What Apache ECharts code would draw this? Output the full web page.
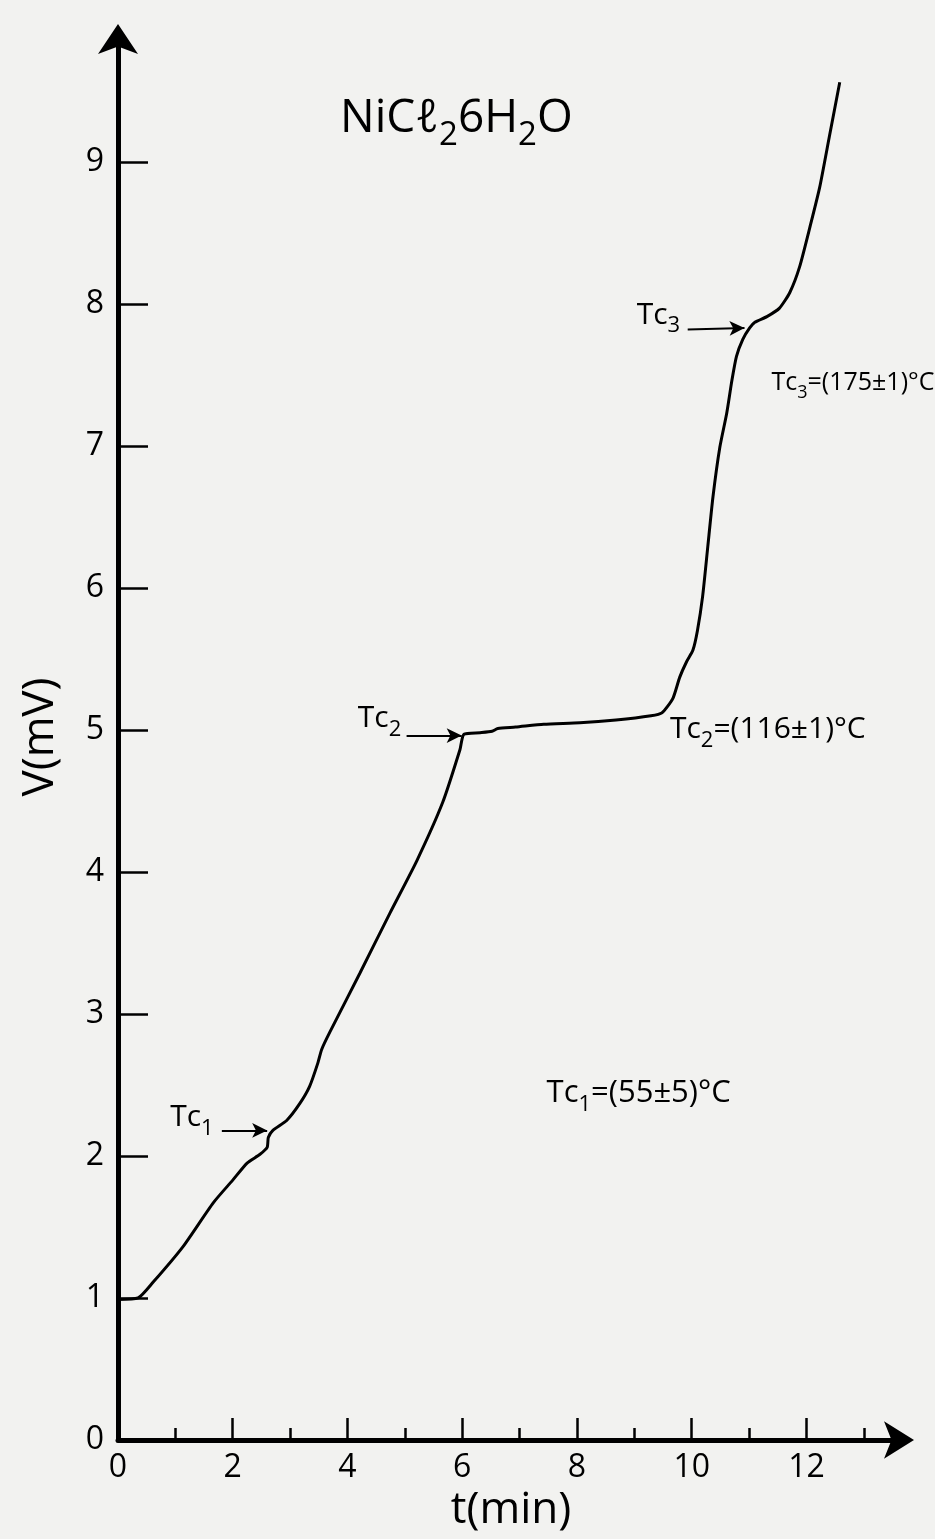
<!DOCTYPE html>
<html>
<head>
<meta charset="utf-8">
<script src="https://cdn.jsdelivr.net/npm/echarts@6/dist/echarts.min.js"></script>
<style>
  html, body { margin: 0; padding: 0; background: #f2f2f0; }
  #chart { width: 935px; height: 1539px; }
</style>
</head>
<body>
<div id="chart"></div>
<script>
// time (min) and voltage (mV)
var tMin = [0, 0.35, 0.61, 1.13, 1.66, 2.0, 2.25, 2.47, 2.6, 2.62, 2.7, 2.94, 3.17, 3.34, 3.48, 3.55, 3.69,
  4.22, 4.74, 5.21, 5.66, 5.96, 6.03, 6.31, 6.52, 6.62, 6.93, 7.42, 8.05, 8.68, 9.29, 9.48, 9.67, 9.79,
  9.91, 10.02, 10.1, 10.19, 10.28, 10.37, 10.49, 10.61, 10.7, 10.78, 10.89, 11.01, 11.1, 11.31, 11.53,
  11.71, 11.88, 12.06, 12.23, 12.4, 12.58];
var mV = [0.99, 1.0, 1.11, 1.36, 1.67, 1.83, 1.95, 2.01, 2.06, 2.13, 2.18, 2.25, 2.37, 2.49, 2.65, 2.75, 2.87,
  3.29, 3.71, 4.08, 4.49, 4.86, 4.97, 4.98, 4.99, 5.01, 5.02, 5.04, 5.05, 5.07, 5.1, 5.12, 5.22, 5.37,
  5.48, 5.56, 5.7, 5.94, 6.29, 6.64, 6.99, 7.23, 7.46, 7.63, 7.75, 7.83, 7.87, 7.91, 7.97,
  8.08, 8.26, 8.54, 8.82, 9.18, 9.56];

var yTicks = [1, 2, 3, 4, 5, 6, 7, 8, 9];
var yLabels = [0, 1, 2, 3, 4, 5, 6, 7, 8, 9];
var xMajor = [2, 4, 6, 8, 10, 12];
var xMinor = [1, 3, 5, 7, 9, 11, 13];
var xLabels = [0, 2, 4, 6, 8, 10, 12];

var ink = '#000000';
var font = 'Open Sans';

var chart = echarts.init(document.getElementById('chart'));

// rich text: main size + subscript
function rich(size) {
  return {
    a: { fontSize: size, lineHeight: size, verticalAlign: 'top', color: ink, fontFamily: font },
    s: { fontSize: Math.round(size * 0.72), lineHeight: Math.round(size * 0.72), padding: [Math.round(size * 0.5), 0, 0, 0], verticalAlign: 'top', color: ink, fontFamily: font }
  };
}

function note(t, v, text, size) {
  return {
    value: [t, v],
    label: { show: true, position: 'right', distance: 0, color: ink, opacity: 1, formatter: text, rich: rich(size) }
  };
}

var notes = [
  note(3.87, 9.30, '{a|NiCℓ}{s|2}{a|6H}{s|2}{a|O}', 46),
  note(0.91, 2.27, '{a|Tc}{s|1}', 30),
  note(4.18, 5.08, '{a|Tc}{s|2}', 30),
  note(9.04, 7.92, '{a|Tc}{s|3}', 30),
  note(7.47, 2.44, '{a|Tc}{s|1}{a|=(55±5)°C}', 31),
  note(9.62, 5.00, '{a|Tc}{s|2}{a|=(116±1)°C}', 30),
  note(11.39, 7.44, '{a|Tc}{s|3}{a|=(175±1)°C}', 25)
];

var option = {
  backgroundColor: '#f2f2f0',
  animation: false,
  grid: { left: 118, right: 31, top: 34, bottom: 99 },
  xAxis: [
    {
      type: 'value', min: 0, max: 13.7, position: 'bottom',
      name: 't(min)', nameLocation: 'middle', nameGap: 48,
      nameTextStyle: { fontSize: 44, color: ink, fontFamily: font },
      splitLine: { show: false },
      axisLine: { lineStyle: { color: ink, width: 5 }, symbol: ['none', 'arrow'], symbolSize: [28, 30], symbolOffset: [0, 10] },
      axisTick: { inside: true, length: 22, lineStyle: { color: ink, width: 2.5 }, customValues: xMajor },
      axisLabel: { fontSize: 32, color: ink, fontFamily: font, margin: 12, customValues: xLabels }
    },
    {
      type: 'value', min: 0, max: 13.7, position: 'bottom',
      splitLine: { show: false },
      axisLine: { show: false },
      axisTick: { inside: true, length: 12, lineStyle: { color: ink, width: 2.5 }, customValues: xMinor },
      axisLabel: { show: false }
    }
  ],
  yAxis: {
    type: 'value', min: 0, max: 9.9,
    name: 'V(mV)', nameLocation: 'middle', nameGap: 56, nameRotate: 90,
    nameTextStyle: { fontSize: 44, color: ink, fontFamily: font },
    splitLine: { show: false },
    axisLine: { show: true, lineStyle: { color: ink, width: 5 }, symbol: ['none', 'arrow'], symbolSize: [30, 30], symbolOffset: [0, 10] },
    axisTick: { show: true, inside: true, length: 30, lineStyle: { color: ink, width: 2.5 }, customValues: yTicks },
    axisLabel: { fontSize: 32, color: ink, fontFamily: font, margin: 14, customValues: yLabels }
  },
  series: [
    {
      type: 'line',
      data: tMin.map(function (t, i) { return [t, mV[i]]; }),
      showSymbol: false,
      smooth: 0.2,
      lineStyle: { color: ink, width: 3 },
      markLine: {
        silent: true,
        symbol: ['none', 'arrow'],
        symbolSize: [11, 15],
        label: { show: false },
        lineStyle: { color: ink, width: 2, type: 'solid' },
        data: [
          [{ coord: [1.81, 2.18] }, { coord: [2.6, 2.18] }],
          [{ coord: [5.03, 4.96] }, { coord: [5.99, 4.96] }],
          [{ coord: [9.93, 7.82] }, { coord: [10.92, 7.83] }]
        ]
      }
    },
    {
      type: 'scatter',
      symbolSize: 0,
      silent: true,
      data: notes
    }
  ]
};

chart.setOption(option);
</script>
</body>
</html>
